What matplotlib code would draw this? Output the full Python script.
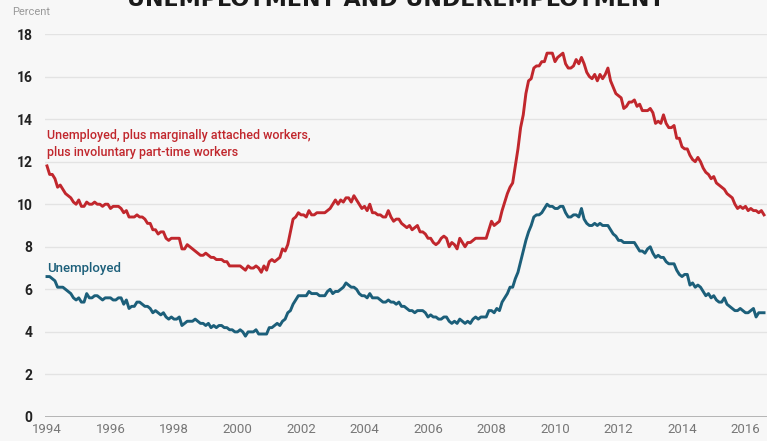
import numpy as np
import matplotlib.pyplot as plt

# monthly rates, Jan 1994 - Aug 2016 (percent)
unemployed = [
    6.6, 6.6, 6.5, 6.4, 6.1, 6.1, 6.1, 6.0, 5.9, 5.8, 5.6, 5.5,  # 1994
    5.6, 5.4, 5.4, 5.8, 5.6, 5.6, 5.7, 5.7, 5.6, 5.5, 5.6, 5.6,  # 1995
    5.6, 5.5, 5.5, 5.6, 5.6, 5.3, 5.5, 5.1, 5.2, 5.2, 5.4, 5.4,  # 1996
    5.3, 5.2, 5.2, 5.1, 4.9, 5.0, 4.9, 4.8, 4.9, 4.7, 4.6, 4.7,  # 1997
    4.6, 4.6, 4.7, 4.3, 4.4, 4.5, 4.5, 4.5, 4.6, 4.5, 4.4, 4.4,  # 1998
    4.3, 4.4, 4.2, 4.3, 4.2, 4.3, 4.3, 4.2, 4.2, 4.1, 4.1, 4.0,  # 1999
    4.0, 4.1, 4.0, 3.8, 4.0, 4.0, 4.0, 4.1, 3.9, 3.9, 3.9, 3.9,  # 2000
    4.2, 4.2, 4.3, 4.4, 4.3, 4.5, 4.6, 4.9, 5.0, 5.3, 5.5, 5.7,  # 2001
    5.7, 5.7, 5.7, 5.9, 5.8, 5.8, 5.8, 5.7, 5.7, 5.7, 5.9, 6.0,  # 2002
    5.8, 5.9, 5.9, 6.0, 6.1, 6.3, 6.2, 6.1, 6.1, 6.0, 5.8, 5.7,  # 2003
    5.7, 5.6, 5.8, 5.6, 5.6, 5.6, 5.5, 5.4, 5.4, 5.5, 5.4, 5.4,  # 2004
    5.3, 5.4, 5.2, 5.2, 5.1, 5.0, 5.0, 4.9, 5.0, 5.0, 5.0, 4.9,  # 2005
    4.7, 4.8, 4.7, 4.7, 4.6, 4.6, 4.7, 4.7, 4.5, 4.4, 4.5, 4.4,  # 2006
    4.6, 4.5, 4.4, 4.5, 4.4, 4.6, 4.7, 4.6, 4.7, 4.7, 4.7, 5.0,  # 2007
    5.0, 4.9, 5.1, 5.0, 5.4, 5.6, 5.8, 6.1, 6.1, 6.5, 6.8, 7.3,  # 2008
    7.8, 8.3, 8.7, 9.0, 9.4, 9.5, 9.5, 9.6, 9.8, 10.0, 9.9, 9.9,  # 2009
    9.8, 9.8, 9.9, 9.9, 9.6, 9.4, 9.4, 9.5, 9.5, 9.4, 9.8, 9.3,  # 2010
    9.1, 9.0, 9.0, 9.1, 9.0, 9.1, 9.0, 9.0, 9.0, 8.8, 8.6, 8.5,  # 2011
    8.3, 8.3, 8.2, 8.2, 8.2, 8.2, 8.2, 8.0, 7.8, 7.8, 7.7, 7.9,  # 2012
    8.0, 7.7, 7.5, 7.6, 7.5, 7.5, 7.3, 7.2, 7.2, 7.2, 6.9, 6.7,  # 2013
    6.6, 6.7, 6.7, 6.2, 6.3, 6.1, 6.2, 6.1, 5.9, 5.7, 5.8, 5.6,  # 2014
    5.7, 5.5, 5.4, 5.4, 5.6, 5.3, 5.2, 5.1, 5.0, 5.0, 5.1, 5.0,  # 2015
    4.9, 4.9, 5.0, 5.1, 4.7, 4.9, 4.9, 4.9,                      # 2016
]

underemployed = [
    11.8, 11.4, 11.4, 11.2, 10.8, 10.9, 10.7, 10.5, 10.4, 10.3, 10.1, 10.0,  # 1994
    10.2, 9.9, 9.9, 10.1, 10.0, 10.0, 10.1, 10.0, 10.0, 9.9, 10.0, 10.0,     # 1995
    9.8, 9.9, 9.9, 9.9, 9.8, 9.6, 9.7, 9.4, 9.4, 9.4, 9.5, 9.4,              # 1996
    9.4, 9.3, 9.1, 9.1, 8.8, 8.8, 8.6, 8.7, 8.7, 8.4, 8.3, 8.4,              # 1997
    8.4, 8.4, 8.4, 7.9, 7.9, 8.1, 8.0, 7.9, 7.8, 7.7, 7.6, 7.6,              # 1998
    7.7, 7.6, 7.5, 7.5, 7.4, 7.4, 7.4, 7.3, 7.3, 7.1, 7.1, 7.1,              # 1999
    7.1, 7.1, 7.0, 6.9, 7.1, 7.0, 7.0, 7.1, 7.0, 6.8, 7.1, 6.9,              # 2000
    7.3, 7.4, 7.3, 7.4, 7.5, 7.9, 7.8, 8.1, 8.7, 9.3, 9.4, 9.6,              # 2001
    9.5, 9.5, 9.4, 9.7, 9.5, 9.5, 9.6, 9.6, 9.6, 9.6, 9.7, 9.8,              # 2002
    10.0, 10.2, 10.0, 10.2, 10.1, 10.3, 10.3, 10.1, 10.4, 10.2, 10.0, 9.8,   # 2003
    9.9, 9.7, 10.0, 9.6, 9.6, 9.5, 9.5, 9.4, 9.4, 9.7, 9.4, 9.2,             # 2004
    9.3, 9.3, 9.1, 9.0, 8.9, 9.0, 8.8, 8.9, 9.0, 8.7, 8.7, 8.6,              # 2005
    8.4, 8.4, 8.2, 8.1, 8.2, 8.4, 8.5, 8.4, 8.0, 8.2, 8.1, 7.9,              # 2006
    8.4, 8.2, 8.0, 8.2, 8.2, 8.3, 8.4, 8.4, 8.4, 8.4, 8.4, 8.8,              # 2007
    9.2, 9.0, 9.1, 9.2, 9.7, 10.1, 10.5, 10.8, 11.0, 11.8, 12.6, 13.6,       # 2008
    14.2, 15.2, 15.8, 15.9, 16.4, 16.5, 16.5, 16.7, 16.7, 17.1, 17.1, 17.1,  # 2009
    16.7, 16.9, 17.0, 17.1, 16.6, 16.4, 16.4, 16.5, 16.8, 16.6, 16.9, 16.6,  # 2010
    16.2, 16.0, 15.9, 16.1, 15.8, 16.1, 15.9, 16.1, 16.4, 15.8, 15.5, 15.2,  # 2011
    15.1, 15.0, 14.5, 14.6, 14.8, 14.8, 14.9, 14.6, 14.7, 14.4, 14.4, 14.4,  # 2012
    14.5, 14.3, 13.8, 13.9, 13.8, 14.2, 13.8, 13.6, 13.6, 13.7, 13.1, 13.1,  # 2013
    12.7, 12.6, 12.6, 12.3, 12.1, 12.0, 12.2, 12.0, 11.7, 11.5, 11.4, 11.2,  # 2014
    11.3, 11.0, 10.9, 10.8, 10.7, 10.5, 10.4, 10.3, 10.0, 9.8, 9.9, 9.8,     # 2015
    9.9, 9.7, 9.8, 9.7, 9.7, 9.6, 9.7, 9.5,                                  # 2016
]

x_ticks = list(range(1994, 2017, 2))
y_ticks = list(range(0, 19, 2))

dates = 1994 + np.arange(len(unemployed)) / 12

red = '#c1272d'
blue = '#1c5f7a'
bg = '#f7f7f7'

fig = plt.figure(figsize=(7.67, 4.41), dpi=100, facecolor=bg)
ax = fig.add_axes([45 / 767, 24 / 441, 722 / 767, 383 / 441], facecolor=bg)

ax.plot(dates, underemployed, color=red, lw=2.1, solid_joinstyle='round')
ax.plot(dates, unemployed, color=blue, lw=2.1, solid_joinstyle='round')

ax.set_xlim(1994 - 2 / 31.75, 1994 + 722 / 31.75 - 2 / 31.75)
ax.set_ylim(0, 18)
ax.set_xticks(x_ticks)
ax.set_yticks(y_ticks)
ax.set_xticklabels([str(v) for v in x_ticks], fontsize=9.5, color='#777777', family='Roboto')
ax.set_yticklabels([str(v) for v in y_ticks], fontsize=10, fontweight='bold', color='#222222', family='Roboto')
ax.tick_params(axis='both', length=0)
ax.tick_params(axis='y', pad=9)
ax.tick_params(axis='x', pad=4)

for s in ax.spines.values():
    s.set_visible(False)
ax.grid(axis='y', color='#e3e3e3', lw=1)
ax.set_axisbelow(True)
ax.axhline(0, color='#b0b0b0', lw=1.3, zorder=1)

ax.text(1994, 12.85, 'Unemployed, plus marginally attached workers,\nplus involuntary part-time workers',
        color=red, fontsize=9, family='Roboto', fontweight='medium', va='center', ha='left', linespacing=1.4)
ax.text(1994, 7.0, 'Unemployed', color=blue, fontsize=9.5, family='Roboto', fontweight='medium',
        va='center', ha='left')

fig.text(12 / 767, 1 - 12 / 441, 'Percent', color='#999999', fontsize=8, family='Roboto', va='center', ha='left')
fig.text(396 / 767, 1 - 5.5 / 441, 'UNEMPLOYMENT AND UNDEREMPLOYMENT', color='#1a1a1a',
         fontsize=16, fontweight='bold', va='baseline', ha='center')

fig.savefig('out.png', dpi=100, facecolor=bg)
